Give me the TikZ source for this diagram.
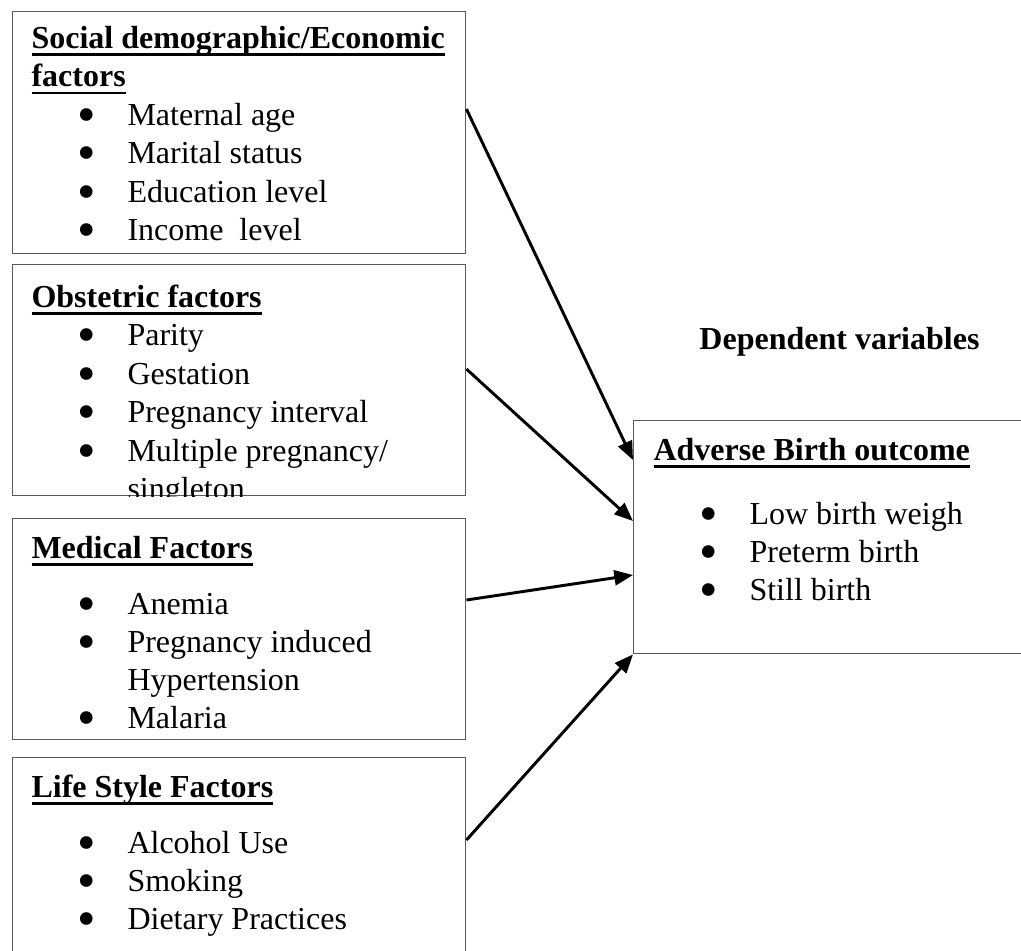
\documentclass[tikz,border=0pt]{standalone}
\usepackage{fontspec}
\usepackage{graphicx}
\setmainfont{Liberation Serif}
\usetikzlibrary{arrows.meta}
% underlined bold heading and a bullet line
\newcommand{\hd}[1]{\textbf{\setbox0\hbox{#1}\rlap{\rule[-2.9pt]{\wd0}{0.9pt}}\box0}}
\newcommand{\itm}[1]{\hspace*{17.2pt}\makebox[18.8pt][l]{\smash{\raisebox{-2.6pt}{\scalebox{1.65}{\textbullet}}}}#1}
\begin{document}
\begin{tikzpicture}[x=0.375pt,y=-0.375pt,
				box/.style={draw=black!65,line width=0.5pt,anchor=north west,inner sep=0pt},
				txt/.style={anchor=base west,inner sep=0pt,font=\fontsize{12}{14.25}\selectfont},
				arr/.style={-{Triangle[length=7pt,width=5.6pt]},line width=1.1pt}]
\useasboundingbox (0,0) rectangle (1021,950);
\clip (0,0) rectangle (1021,950);
% frames
\node[box,minimum width=169.9pt,minimum height=90.75pt] (soc) at (12,11) {};
\node[box,minimum width=169.9pt,minimum height=86.6pt] (obs) at (12,264) {};
\node[box,minimum width=169.9pt,minimum height=82.9pt] (med) at (12,518) {};
\node[box,minimum width=169.9pt,minimum height=87.4pt] (life) at (12,757) {};
\node[box,minimum width=160pt,minimum height=87.4pt] (outc) at (633,420) {};
% texts
\node[txt,font=\fontsize{12}{14.45}\selectfont] (socT) at (31,48) {\parbox[t]{165pt}{\hd{Social demographic/Economic}\\
	\hd{factors}\\
	\itm{Maternal age}\\
	\itm{Marital status}\\
	\itm{Education level}\\
	\itm{Income\ \ level}}};
\begin{scope}
\clip (obs.north west) rectangle (obs.south east);
\node[txt,font=\fontsize{12}{14.45}\selectfont] (obsT) at (31,307) {\parbox[t]{165pt}{\hd{Obstetric factors}\\
	\itm{Parity}\\
	\itm{Gestation}\\
	\itm{Pregnancy interval}\\
	\itm{Multiple pregnancy/}\\
	\hspace*{36pt}singleton}};
\end{scope}
\node[txt] (medT) at (31,558) {\parbox[t]{165pt}{\hd{Medical Factors}\\[7.1pt]
	\itm{Anemia}\\
	\itm{Pregnancy induced}\\
	\hspace*{36pt}Hypertension\\
	\itm{Malaria}}};
\node[txt] (lifeT) at (31,797) {\parbox[t]{165pt}{\hd{Life Style Factors}\\[7.1pt]
	\itm{Alcohol Use}\\
	\itm{Smoking}\\
	\itm{Dietary Practices}}};
\node[txt] (outcT) at (653,460) {\parbox[t]{150pt}{\hd{Adverse Birth outcome}\\[10.1pt]
	\itm{Low birth weigh}\\
	\itm{Preterm birth}\\
	\itm{Still birth}}};
\node[anchor=base east,inner sep=0pt,font=\fontsize{12}{14.25}\selectfont\bfseries] (dep) at (980,349) {Dependent variables};
% arrows
\draw[arr] (soc.east |- 0,109) -- (outc.west |- 0,460);
\draw[arr] (obs.east |- 0,369) -- (outc.west |- 0,521);
\draw[arr] (med.east |- 0,600) -- (outc.west |- 0,575);
\draw[arr] (life.east |- 0,840) -- (outc.south west);
\end{tikzpicture}
\end{document}
